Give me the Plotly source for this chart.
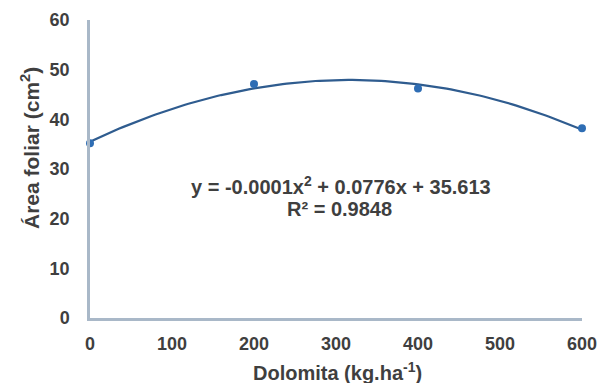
import numpy as np
import plotly.graph_objects as go

dolomita = [0, 200, 400, 600]
area_foliar = [35.2, 47.1, 46.2, 38.2]
x_ticks = [0, 100, 200, 300, 400, 500, 600]
y_ticks = [0, 10, 20, 30, 40, 50, 60]

coef = np.polyfit(dolomita, area_foliar, 2)
xs = np.linspace(0, 600, 121)
ys = np.polyval(coef, xs)

font_c = "#3f3f3f"
FAM = "Liberation Sans, Arial"
W, H = 600, 383
L, R, T, B = 90, 18, 20, 65

fig = go.Figure()
fig.add_trace(go.Scatter(x=xs, y=ys, mode="lines", cliponaxis=False,
                         line=dict(color="#2F5C8F", width=2.2), hoverinfo="skip"))
fig.add_trace(go.Scatter(x=dolomita, y=area_foliar, mode="markers", cliponaxis=False,
                         marker=dict(color="#2E6DB4", size=8)))

fig.update_layout(
    width=W, height=H, showlegend=False,
    paper_bgcolor="white", plot_bgcolor="white",
    margin=dict(l=L, r=R, t=T, b=B),
    font=dict(family=FAM, color=font_c),
    xaxis=dict(range=[0, 600], tickvals=x_ticks, showgrid=False, zeroline=False,
               showline=True, linecolor="#A9B8C8", linewidth=2.5, automargin=False,
               tickfont=dict(size=18, family=FAM, weight="bold"),
               ticks="", ticklabelstandoff=8),
    yaxis=dict(range=[0, 60], tickvals=y_ticks, showgrid=False, zeroline=False,
               showline=True, linecolor="#A9B8C8", linewidth=2.5, automargin=False,
               tickfont=dict(size=18, family=FAM, weight="bold"),
               ticks="", ticklabelstandoff=14),
)

def px(xp, yp):
    return dict(xref="paper", yref="paper", xanchor="center", yanchor="middle",
                x=(xp - L) / (W - L - R), y=1 - (yp - T) / (H - T - B))

fig.add_annotation(**px(337, 371), showarrow=False,
                   text="<b>Dolomita (kg.ha<sup>-1</sup>)</b>",
                   font=dict(size=20, color=font_c, family=FAM))
fig.add_annotation(**px(30, 148), showarrow=False, textangle=-90,
                   text="<b>Área foliar (cm<sup>2</sup>)</b>",
                   font=dict(size=21, color=font_c, family=FAM))
fig.add_annotation(**px(341, 185), showarrow=False,
                   text="<b>y = -0.0001x<sup>2</sup> + 0.0776x + 35.613</b>",
                   font=dict(size=20, color=font_c, family=FAM))
fig.add_annotation(**px(339, 209), showarrow=False,
                   text="<b>R² = 0.9848</b>",
                   font=dict(size=20, color=font_c, family=FAM))
fig.write_html("out.html", config={"displayModeBar": False},
               post_script="document.body.style.margin='0px';")
